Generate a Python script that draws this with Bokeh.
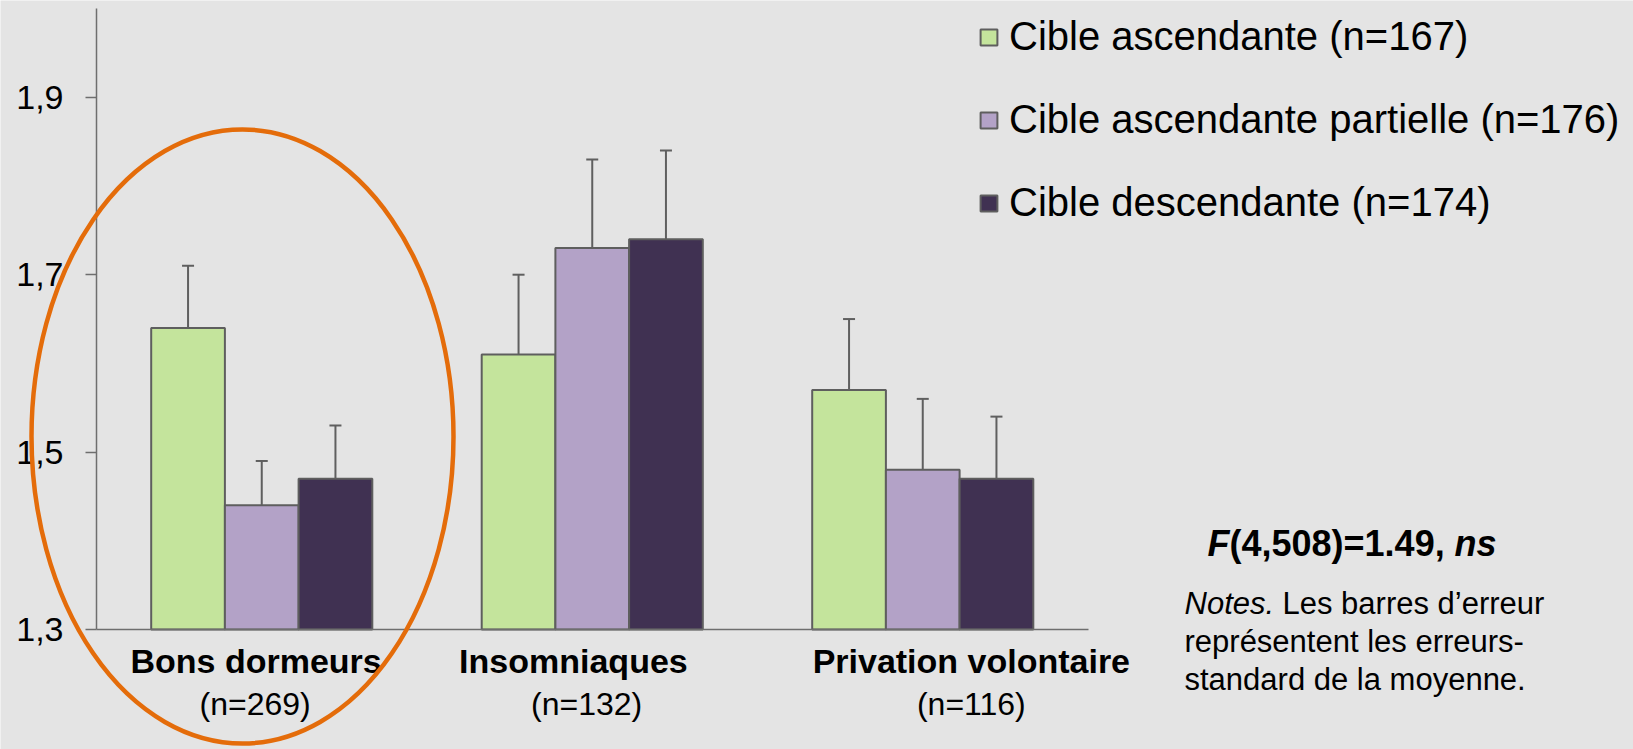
from bokeh.plotting import figure
from bokeh.models import (ColumnDataSource, Range1d, LinearAxis, FixedTicker,
                          CustomJSTickFormatter, Whisker, TeeHead, Legend,
                          LegendItem, Label)
from bokeh.embed import file_html
from bokeh.resources import INLINE

# ---------------- data ----------------
categories = ["Bons dormeurs", "Insomniaques", "Privation volontaire"]
category_n = ["(n=269)", "(n=132)", "(n=116)"]
series_names = ["Cible ascendante (n=167)",
                "Cible ascendante partielle (n=176)",
                "Cible descendante (n=174)"]
mean_asc = [1.64, 1.61, 1.57]
mean_part = [1.44, 1.73, 1.48]
mean_desc = [1.47, 1.74, 1.47]
se_asc = [0.07, 0.09, 0.08]
se_part = [0.05, 0.10, 0.08]
se_desc = [0.06, 0.10, 0.07]
y_ticks = [1.3, 1.5, 1.7, 1.9]
stat_parts = ["F", "(4,508)=1.49, ", "ns"]
note_lines = ["Notes.", "Les barres d\u2019erreur",
              "repr\u00e9sentent les erreurs-", "standard de la moyenne."]

# ---------------- layout / style ----------------
W, H = 1633, 749
X0_PX, X_UNIT_PX = 96, 330.5
Y_BASE, Y_TOP = 1.3, 2.0
Y0_PX, Y_UNIT_PX = 629, 887
BG = "#e4e4e4"
AX = "#6e6e6e"
OUTLINE = "#5e5e5e"
ERR = "#5f5f5f"
ORANGE = "#e46c0a"
COLORS = ["#c4e49c", "#b3a2c7", "#403152"]
FONT = "Liberation Sans"
BAR_W = 0.223
LABEL_SHIFT = [-0.017, -0.057, 0.147]
N_SHIFT = [-0.020, -0.017, 0.147]


def xd(px):
    return (px - X0_PX) / X_UNIT_PX


def yd(py):
    return Y_BASE + (Y0_PX - py) / Y_UNIT_PX


p = figure(width=W, height=H, x_range=Range1d(xd(0), xd(W)),
           y_range=Range1d(yd(H), yd(0)), output_backend="svg",
           toolbar_location=None, min_border=0, x_axis_type=None,
           y_axis_type=None, background_fill_color=BG, border_fill_color=BG,
           outline_line_color=None)
p.grid.visible = False

means_all = [mean_asc, mean_part, mean_desc]
ses_all = [se_asc, se_part, se_desc]
offsets = [-BAR_W, 0.0, BAR_W]
renderers = []
for j, (means, ses) in enumerate(zip(means_all, ses_all)):
    xs = [i + 0.5 + offsets[j] for i in range(len(categories))]
    src = ColumnDataSource(dict(x=xs, top=means,
                                upper=[m + s for m, s in zip(means, ses)]))
    r = p.vbar(x="x", top="top", bottom=Y_BASE, width=BAR_W, source=src,
               fill_color=COLORS[j], line_color=OUTLINE, line_width=2)
    renderers.append(r)
    wh = Whisker(source=src, base="x", lower="top", upper="upper",
                 line_color=ERR, line_width=2,
                 upper_head=TeeHead(size=12, line_color=ERR, line_width=2),
                 lower_head=None, level="glyph")
    p.add_layout(wh)

# y axis
yaxis = LinearAxis(fixed_location=0, bounds=(Y_BASE, Y_TOP),
                   ticker=FixedTicker(ticks=y_ticks, minor_ticks=[]),
                   formatter=CustomJSTickFormatter(
                       code="return tick.toFixed(1).replace('.', ',')"),
                   major_tick_in=0, major_tick_out=11,
                   minor_tick_in=0, minor_tick_out=0,
                   axis_line_color=AX, axis_line_width=1.5,
                   major_tick_line_color=AX, major_tick_line_width=1.5,
                   major_label_text_font=FONT,
                   major_label_text_font_size="34px",
                   major_label_text_color="black",
                   major_label_standoff=22)
p.add_layout(yaxis, "left")

# x axis: category names (bold)
xaxis = LinearAxis(fixed_location=Y_BASE, bounds=(0, len(categories)),
                   ticker=FixedTicker(ticks=[i + 0.5 + s for i, s in enumerate(LABEL_SHIFT)],
                                      minor_ticks=[]),
                   formatter=CustomJSTickFormatter(args=dict(labels=categories),
                                                   code="return labels[index]"),
                   major_tick_in=0, major_tick_out=0,
                   minor_tick_in=0, minor_tick_out=0,
                   axis_line_color=AX, axis_line_width=1.5,
                   major_label_text_font=FONT,
                   major_label_text_font_style="bold",
                   major_label_text_font_size="34px",
                   major_label_text_color="black",
                   major_label_standoff=12)
p.add_layout(xaxis, "below")

# x axis: sample sizes
xaxis_n = LinearAxis(fixed_location=Y_BASE, bounds=(0, len(categories)),
                     ticker=FixedTicker(ticks=[i + 0.5 + s for i, s in enumerate(N_SHIFT)],
                                        minor_ticks=[]),
                     formatter=CustomJSTickFormatter(args=dict(labels=category_n),
                                                     code="return labels[index]"),
                     major_tick_in=0, major_tick_out=0,
                     minor_tick_in=0, minor_tick_out=0,
                     axis_line_color=None,
                     major_label_text_font=FONT,
                     major_label_text_font_size="32px",
                     major_label_text_color="black",
                     major_label_standoff=56)
p.add_layout(xaxis_n, "below")

# highlight ellipse around first group
p.ellipse(x=[xd(242)], y=[yd(436)], width=[422], height=[614],
          width_units="screen", height_units="screen",
          fill_color=None, line_color=ORANGE, line_width=4.5, level="overlay")

# legend
legend = Legend(items=[LegendItem(label=n, renderers=[r])
                       for n, r in zip(series_names, renderers)],
                location=(978, 524), orientation="vertical",
                glyph_width=21, glyph_height=20, label_standoff=10,
                label_text_font=FONT, label_text_font_size="40px",
                label_text_color="black",
                spacing=38, padding=0, margin=0,
                border_line_color=None, background_fill_alpha=0)
p.add_layout(legend)

# statistics text
stat_x = [1207, 1229, 1454]
stat_style = ["bold italic", "bold", "bold italic"]
for t, x, st in zip(stat_parts, stat_x, stat_style):
    p.add_layout(Label(x=xd(x), y=yd(543), text=t, text_font=FONT,
                       text_font_style=st, text_font_size="36px",
                       text_color="black", text_align="left",
                       text_baseline="alphabetic"))

note_pos = [(1184, 603), (1282, 603), (1184, 641), (1184, 679)]
note_style = ["italic", "normal", "normal", "normal"]
for t, (x, y), st in zip(note_lines, note_pos, note_style):
    p.add_layout(Label(x=xd(x), y=yd(y), text=t, text_font=FONT,
                       text_font_style=st, text_font_size="31px",
                       text_color="black", text_align="left",
                       text_baseline="alphabetic"))

open("out.html", "w").write(file_html(p, INLINE))
